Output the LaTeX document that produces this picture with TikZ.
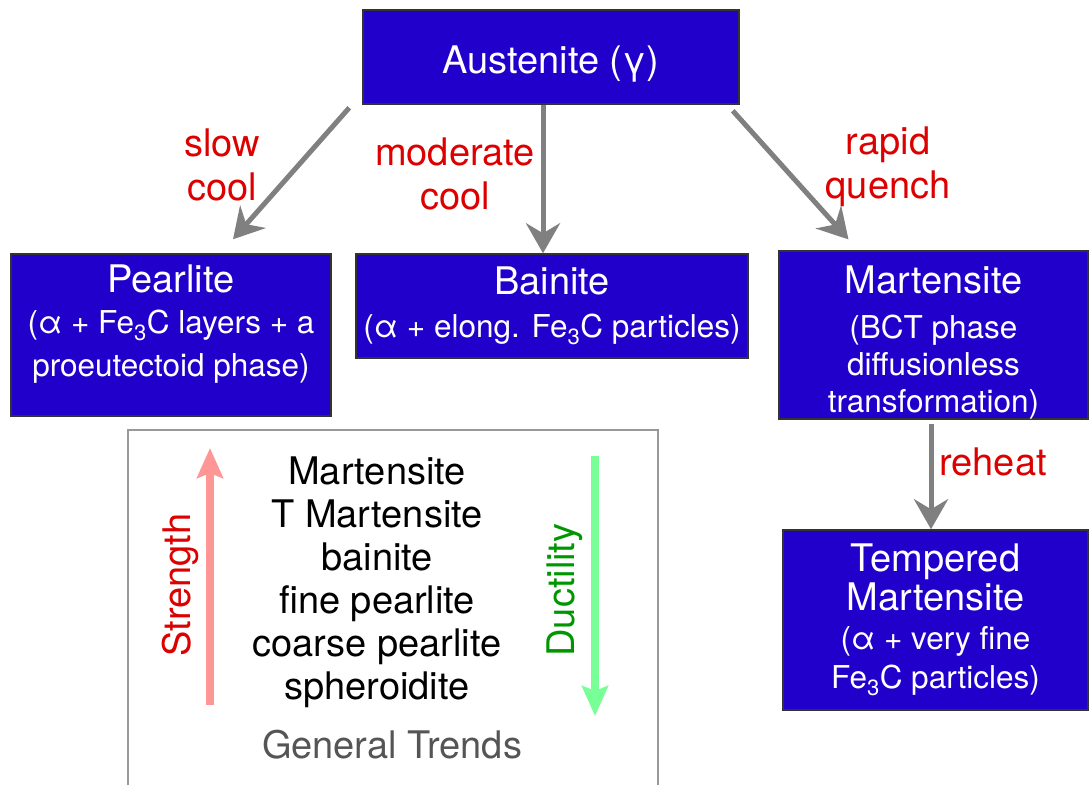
\documentclass[tikz,border=0pt]{standalone}
\usepackage{fontspec}
\setmainfont{TeX Gyre Heros}
\usetikzlibrary{arrows.meta,calc}
\definecolor{phaseblue}{RGB}{34,0,204}
\definecolor{ratered}{RGB}{220,0,0}
\definecolor{trendgray}{RGB}{85,85,85}
\definecolor{strengthpink}{RGB}{255,150,150}
\definecolor{ductlight}{RGB}{120,255,150}
\definecolor{ductdark}{RGB}{0,150,0}
\newcommand{\bigfont}{\fontsize{38}{44}\selectfont}
\newcommand{\smallfont}{\fontsize{31.5}{39}\selectfont}

\begin{document}
\begin{tikzpicture}[
  x=1pt, y=-1pt,
  phase/.style={draw=black!80, line width=1.5pt, fill=phaseblue, text=white, align=center, inner sep=0pt, font=\smallfont},
  rate/.style={text=ratered, align=center, font=\bigfont},
  trend/.style={align=center, font=\fontsize{38}{43}\selectfont},
  arr/.style={draw=black!50, line width=5pt, -{Stealth[length=30pt,width=34pt,inset=10pt]}},
  trendarr/.style={line width=8pt, -{Stealth[length=30pt,width=26pt,inset=5pt]}}
]
\useasboundingbox (0,0) rectangle (1090,785);

% phases
\node[phase, minimum width=376pt, minimum height=94pt] (aus) at (551,57) {{\bigfont\rule{0pt}{42pt}Austenite (γ)}};
\node[phase, minimum width=320pt, minimum height=162pt] (pearl) at (171,335) {{\bigfont Pearlite}\\[2pt](α + Fe\textsubscript{3}C layers + a\\[4pt]proeutectoid phase)\rule[-28pt]{0pt}{1pt}};
\node[phase, minimum width=392pt, minimum height=104pt] (bain) at (552,306) {{\bigfont Bainite}\\[4pt](α + elong. Fe\textsubscript{3}C particles)};
\node[phase, minimum width=309pt, minimum height=162pt] (mart) at (933.5,335) {{\bigfont\rule{0pt}{42pt}Martensite}\\[6pt](BCT phase\\[-2pt]diffusionless\\[-2pt]transformation)};
\node[phase, minimum width=305pt, minimum height=180pt] (temp) at (935.5,620) {{\bigfont Tempered}\\{\bigfont Martensite}\\(α + very fine\\Fe\textsubscript{3}C particles)};

% cooling paths
\draw[arr] ($(aus.south west)+(-13,3)$) -- ($(pearl.north)+(62,-14)$);
\draw[arr] ($(aus.south)+(-8,0)$) -- ($(bain.north)+(-9,0)$);
\draw[arr] ($(aus.south east)+(-7,6)$) -- ($(mart.north)+(-85,-11)$);
\draw[arr] ($(mart.south)+(-2.5,4)$) -- ($(temp.north)+(-4.5,0)$);
\node[rate] (slow) at (222,165) {slow\\cool};
\node[rate] (moderate) at (455,174) {moderate\\cool};
\node[rate] (rapid) at (888,167) {rapid\\quench};
\node[rate] (reheat) at (993,462) {reheat};

% general trends
\draw[black!40, line width=1.5pt] (128,785) -- (128,430) -- (658,430) -- (658,785);
\node[trend] (list) at (377,582) {Martensite\\T Martensite\\bainite\\fine pearlite\\coarse pearlite\\spheroidite};
\node[trend, text=trendgray] (gen) at (392,745) {General Trends};
\node[trend, text=ratered, rotate=90] (str) at (180,585) {Strength};
\node[trend, text=ductdark, rotate=90] (duct) at (565,590) {Ductility};
\coordinate (strlo) at (210,705);
\coordinate (strhi) at (210,448);
\coordinate (ductlo) at (595,716);
\coordinate (ducthi) at (595,456);
\draw[trendarr, strengthpink] (strlo) -- (strhi);
\draw[trendarr, ductlight] (ducthi) -- (ductlo);
\end{tikzpicture}
\end{document}
